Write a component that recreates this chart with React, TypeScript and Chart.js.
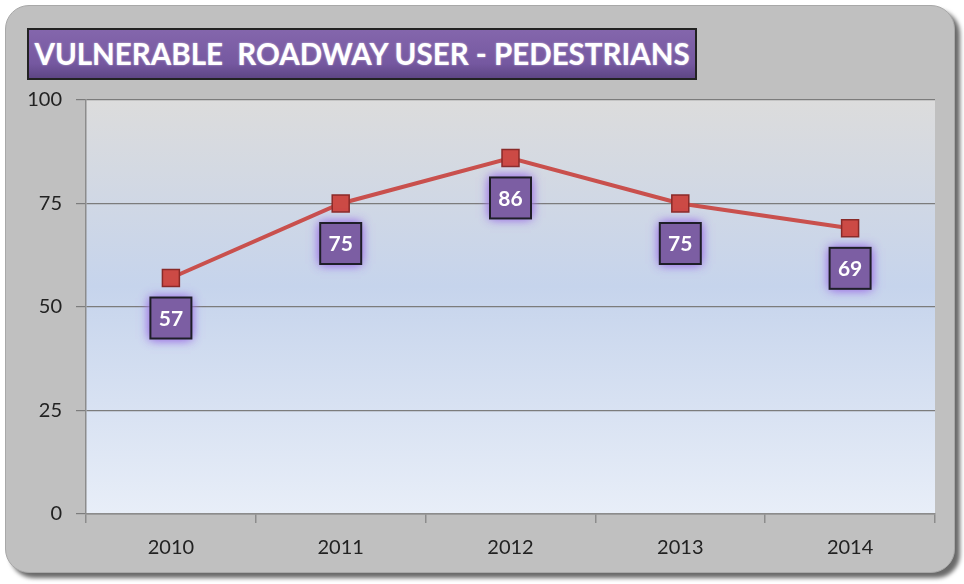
import React, { useEffect, useRef } from "react";
import { Chart, registerables } from "chart.js";

Chart.register(...registerables);

const categories = ["2010", "2011", "2012", "2013", "2014"];
const pedestrians = [57, 75, 86, 75, 69];
const yTicks = [0, 25, 50, 75, 100];
const titleText = "VULNERABLE  ROADWAY USER - PEDESTRIANS";

const FONT = "Lato, 'Open Sans', sans-serif";

export default function App() {
  const ref = useRef<HTMLCanvasElement | null>(null);

  useEffect(() => {
    document.body.style.margin = "0";
    const canvas = ref.current;
    if (!canvas) return;

    const bgPlugin = {
      id: "plotBg",
      beforeDraw(chart: any) {
        const { ctx, chartArea } = chart;
        const { left, top, right, bottom } = chartArea;
        const g = ctx.createLinearGradient(0, top, 0, bottom);
        g.addColorStop(0, "#dcdcdc");
        g.addColorStop(0.45, "#c6d4ec");
        g.addColorStop(1, "#e8eef8");
        ctx.save();
        ctx.fillStyle = g;
        ctx.fillRect(left, top, right - left, bottom - top);
        ctx.restore();
      },
    };

    const labelPlugin = {
      id: "boxLabels",
      afterDatasetsDraw(chart: any) {
        const { ctx } = chart;
        const meta = chart.getDatasetMeta(0);
        const ds = chart.data.datasets[0].data as number[];
        meta.data.forEach((pt: any, i: number) => {
          const cx = pt.x;
          const cy = pt.y + 40;
          const s = 41;
          ctx.save();
          ctx.shadowColor = "rgba(160,120,230,1)";
          ctx.shadowBlur = 10;
          ctx.fillStyle = "#7c5ea3";
          ctx.fillRect(cx - s / 2, cy - s / 2, s, s);
          ctx.fillRect(cx - s / 2, cy - s / 2, s, s);
          ctx.shadowBlur = 0;
          ctx.shadowColor = "transparent";
          ctx.lineWidth = 2;
          ctx.strokeStyle = "#1e1e28";
          ctx.strokeRect(cx - s / 2, cy - s / 2, s, s);
          ctx.fillStyle = "#ffffff";
          ctx.font = `bold 21px ${FONT}`;
          ctx.textAlign = "center";
          ctx.textBaseline = "middle";
          ctx.fillText(String(ds[i]), cx, cy + 1);
          ctx.restore();
        });
      },
    };

    const chart = new Chart(canvas, {
      type: "line",
      data: {
        labels: categories,
        datasets: [
          {
            data: pedestrians,
            borderColor: "#c9504d",
            borderWidth: 4,
            pointStyle: "rect",
            pointRadius: 12,
            pointBackgroundColor: "#cc4a45",
            pointBorderColor: "#8a2a28",
            pointBorderWidth: 1.5,
            tension: 0,
          },
        ],
      },
      plugins: [bgPlugin, labelPlugin],
      options: {
        animation: false,
        responsive: false,
        devicePixelRatio: 1,
        layout: { padding: { left: 0, top: 100, right: 29, bottom: 0 } },
        plugins: {
          legend: { display: false },
          tooltip: { enabled: false },
          title: { display: false },
        },
        scales: {
          x: {
            offset: true,
            afterFit(scale: any) {
              scale.height = 70;
            },
            grid: {
              offset: true,
              drawOnChartArea: false,
              drawTicks: true,
              tickLength: 9,
              color: "#8c8c8c",
              lineWidth: 1.5,
            },
            border: { display: true, color: "#8c8c8c", width: 1.5 },
            ticks: {
              color: "#222222",
              font: { family: FONT, size: 20 },
              padding: 13,
            },
          },
          y: {
            min: 0,
            max: 100,
            afterFit(scale: any) {
              scale.width = 86;
            },
            afterBuildTicks(scale: any) {
              scale.ticks = yTicks.map((v) => ({ value: v }));
            },
            grid: {
              color: "#7c7c7c",
              lineWidth: 1.2,
              drawTicks: true,
              tickLength: 10,
            },
            border: { display: true, color: "#8c8c8c", width: 1.5 },
            ticks: {
              color: "#222222",
              font: { family: FONT, size: 20 },
              padding: 14,
            },
          },
        },
      },
    });

    return () => chart.destroy();
  }, []);

  return (
    <div style={{ position: "relative", width: 964, height: 584, background: "#ffffff", overflow: "hidden" }}>
      <div
        style={{
          position: "absolute",
          left: 5,
          top: 5,
          width: 948,
          height: 566,
          borderRadius: 24,
          background: "#c0c0c0",
          border: "1px solid #a8a8a8",
          boxShadow: "5px 5px 4px #6a6a6a",
        }}
      />
      <canvas ref={ref} width={964} height={584} style={{ position: "absolute", left: 0, top: 0, width: 964, height: 584 }} />
      <div
        style={{
          position: "absolute",
          left: 27,
          top: 28,
          width: 666,
          height: 48,
          background: "linear-gradient(#8466ac, #7558a0 70%, #5e4684)",
          border: "2px solid #222",
          boxSizing: "content-box",
          color: "#ffffff",
          fontFamily: FONT,
          fontWeight: "bold",
          fontSize: 29.5,
          lineHeight: "48px",
          whiteSpace: "pre",
          textAlign: "center",
          textShadow: "0 0 2px rgba(255,255,255,0.6)",
        }}
      >
        {titleText}
      </div>
    </div>
  );
}
